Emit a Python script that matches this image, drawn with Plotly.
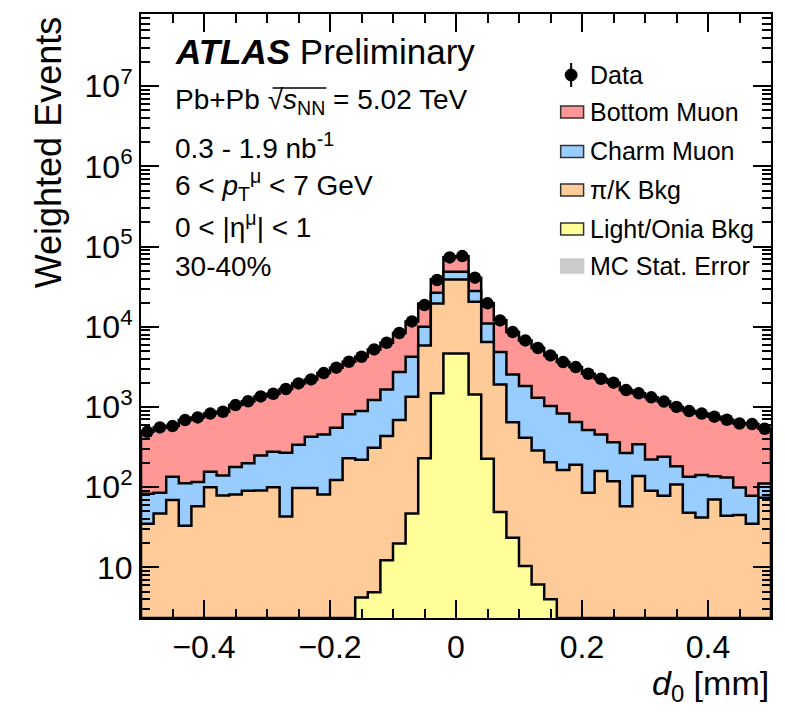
import numpy as np
import plotly.graph_objects as go

# ---------------- data ----------------
d0_edges = np.round(np.linspace(-0.5, 0.5, 51), 3)          # 50 bins of 0.02 mm
d0_centers = np.round(0.5 * (d0_edges[:-1] + d0_edges[1:]), 3)

data_counts = [490, 556, 578, 687, 741, 828, 873, 1057, 1180, 1355,
               1462, 1675, 1968, 2208, 2649, 3090, 3664, 4236, 5224, 6324,
               8356, 11670, 18660, 38280, 73280, 76210, 40930, 19590, 12020, 8590,
               6761, 5433, 4395, 3631, 3148, 2600, 2249, 2009, 1626, 1479,
               1318, 1169, 1002, 889, 828, 757, 693, 622, 612, 536]

light_onia = [0] * 17 + [4.2, 4.9, 12.3, 19.9, 47, 229, 1480, 4660,
                         4660, 1435, 227, 49, 23.4, 10.4, 6.1, 4.0] + [0] * 17

pik_bkg = [35, 47, 69, 33, 58, 100, 79, 81, 90, 91,
           100, 43, 98, 98, 81, 123, 229, 215, 305, 422,
           667, 1296, 5630, 18100, 34300, 34300, 19100, 6230, 1865, 622,
           404, 280, 200, 164, 190, 85, 159, 119, 58, 138,
           90, 78, 108, 48, 42, 70, 44, 45, 35, 74]

charm_muon = [48, 38, 66, 79, 58, 56, 61, 97, 109, 158,
              177, 226, 241, 328, 374, 428, 580, 670, 909, 1222,
              2042, 2893, 4159, 7020, 9650, 9650, 7420, 4563, 2928, 1901,
              1410, 1017, 824, 668, 458, 430, 296, 244, 209, 204,
              132, 162, 75, 87, 100, 67, 88, 54, 43, 37]

bottom_muon = [407, 471, 443, 576, 625, 672, 733, 879, 982, 1106,
               1185, 1406, 1629, 1782, 2194, 2539, 2855, 3347, 4005, 4668,
               5627, 7434, 9500, 12500, 25000, 27000, 13000, 8570, 7180, 6040,
               4940, 4130, 3370, 2800, 2500, 2085, 1794, 1646, 1360, 1137,
               1097, 929, 819, 754, 686, 619, 562, 524, 535, 425]

x_tick_vals = [-0.4, -0.2, 0, 0.2, 0.4]
x_tick_text = ["\u22120.4", "\u22120.2", "0", "0.2", "0.4"]
y_tick_vals = [10, 100, 1e3, 1e4, 1e5, 1e6, 1e7]
y_tick_text = ["10", "10<sup>2</sup>", "10<sup>3</sup>", "10<sup>4</sup>",
               "10<sup>5</sup>", "10<sup>6</sup>", "10<sup>7</sup>"]

# ---------------- style ----------------
FONT = "Liberation Sans, Arial, Helvetica, sans-serif"
W, H = 785, 723
ML, MR, MT, MB = 141, 12, 14, 105
Y_RANGE = [0.369, 7.90]
FLOOR = 10 ** Y_RANGE[0]

COL_BOTTOM = "#ff9797"
COL_CHARM = "#99ccff"
COL_PIK = "#ffcc99"
COL_LIGHT = "#ffff99"
COL_MCERR = "#cccccc"

PW = W - ML - MR
PH = H - MT - MB


def px(x, y):
    """pixel position on the page -> paper coordinates"""
    return (x - ML) / PW, (H - MB - y) / PH


def step_path(edges, vals, floor):
    xs, ys = [edges[0]], [floor]
    for i, v in enumerate(vals):
        v = max(v, floor)
        xs += [edges[i], edges[i + 1]]
        ys += [v, v]
    xs.append(edges[-1])
    ys.append(floor)
    return xs, ys


# cumulative stack: light -> pi/K -> charm -> bottom
comps = [("Light/Onia Bkg", light_onia, COL_LIGHT),
         ("\u03c0/K Bkg", pik_bkg, COL_PIK),
         ("Charm Muon", charm_muon, COL_CHARM),
         ("Bottom Muon", bottom_muon, COL_BOTTOM)]
cum = np.cumsum(np.array([c[1] for c in comps], dtype=float), axis=0)

fig = go.Figure()
for k in range(len(comps) - 1, -1, -1):
    name, _, col = comps[k]
    xs, ys = step_path(d0_edges, cum[k], FLOOR)
    fig.add_trace(go.Scatter(x=xs, y=ys, mode="lines", fill="toself",
                             fillcolor=col, line=dict(color="black", width=2.5),
                             name=name, showlegend=False, hoverinfo="skip"))

fig.add_trace(go.Scatter(x=d0_centers, y=data_counts, mode="markers",
                         marker=dict(color="black", size=12.5),
                         name="Data", showlegend=False))

axis_common = dict(showline=True, linecolor="black", linewidth=2,
                   mirror="allticks", ticks="inside", ticklen=18, tickwidth=2,
                   tickcolor="black", showgrid=False, zeroline=False,
                   tickfont=dict(family=FONT, size=32, color="black"))

minor_y = [m * 10 ** e for e in range(0, 8) for m in range(2, 10)
           if Y_RANGE[0] < np.log10(m * 10 ** e) < Y_RANGE[1]]

fig.update_layout(
    width=W, height=H,
    margin=dict(l=ML, r=MR, t=MT, b=MB),
    paper_bgcolor="white", plot_bgcolor="white",
    showlegend=False,
    xaxis=dict(range=[-0.5, 0.5], tickmode="array", tickvals=x_tick_vals,
               ticktext=x_tick_text,
               minor=dict(dtick=0.05, tick0=0, ticks="inside", ticklen=9,
                          tickwidth=2, tickcolor="black"),
               **axis_common),
    yaxis=dict(type="log", range=Y_RANGE, tickmode="array", tickvals=y_tick_vals,
               ticktext=y_tick_text,
               minor=dict(tickmode="array", tickvals=minor_y, ticks="inside",
                          ticklen=9, tickwidth=2, tickcolor="black"),
               **axis_common),
)

ann = []


def text(x, y, s, size, anchor="left", **kw):
    xp, yp = px(x, y)
    ann.append(dict(x=xp, y=yp, xref="paper", yref="paper", text=s,
                    showarrow=False, xanchor=anchor, yanchor="middle",
                    font=dict(family=FONT, size=size, color="black"), **kw))


# info text
text(173, 52, "<b><i>ATLAS</i></b> Preliminary", 35)
text(173, 102, "Pb+Pb \u221a<i>s</i><sub>NN</sub> = 5.02 TeV", 28)
text(173, 146, "0.3 - 1.9 nb<sup>-1</sup>", 28)
text(173, 185, "6 &lt; <i>p</i><sub>T</sub><sup>\u03bc</sup> &lt; 7 GeV", 28)
text(173, 225, "0 &lt; |\u03b7<sup>\u03bc</sup>| &lt; 1", 28)
text(173, 266, "30-40%", 28)

# axis titles
text(773, 685, "<i>d</i><sub>0</sub> [mm]", 34, anchor="right")
xp, yp = px(48, 14)
ann.append(dict(x=xp, y=yp, xref="paper", yref="paper", text="Weighted Events",
                showarrow=False, xanchor="center", yanchor="top", textangle=-90,
                font=dict(family=FONT, size=36, color="black")))

shapes = []
# overline of the square root
x0, y0 = px(273, 88)
x1, y1 = px(327, 88)
shapes.append(dict(type="line", xref="paper", yref="paper", x0=x0, y0=y0, x1=x1, y1=y1,
                   line=dict(color="black", width=1.5)))

# legend
leg_text_x = 589
lx0, lx1 = 562, 585
cx, cy = 572.5, 75
x0, y0 = px(cx - 6, cy - 6)
x1, y1 = px(cx + 6, cy + 6)
shapes.append(dict(type="circle", xref="paper", yref="paper", x0=x0, y0=y0, x1=x1, y1=y1,
                   fillcolor="black", line=dict(color="black", width=1)))
x0, y0 = px(cx, 63)
x1, y1 = px(cx, 87)
shapes.append(dict(type="line", xref="paper", yref="paper", x0=x0, y0=y0, x1=x1, y1=y1,
                   line=dict(color="black", width=2)))
text(leg_text_x, 75, "Data", 25)

leg_items = [("Bottom Muon", COL_BOTTOM, 112, True),
             ("Charm Muon", COL_CHARM, 151.5, True),
             ("\u03c0/K Bkg", COL_PIK, 190, True),
             ("Light/Onia Bkg", COL_LIGHT, 229, True),
             ("MC Stat. Error", COL_MCERR, 266, False)]
for name, col, yc, outline in leg_items:
    hh = 6 if outline else 7
    x0, y0 = px(lx0, yc + hh)
    x1, y1 = px(lx1, yc - hh)
    shapes.append(dict(type="rect", xref="paper", yref="paper", x0=x0, y0=y0, x1=x1, y1=y1,
                       fillcolor=col,
                       line=dict(color="#333333" if outline else col, width=1.5)))
    text(leg_text_x, yc, name, 25)

fig.update_layout(annotations=ann, shapes=shapes)
fig.write_html("out.html")
